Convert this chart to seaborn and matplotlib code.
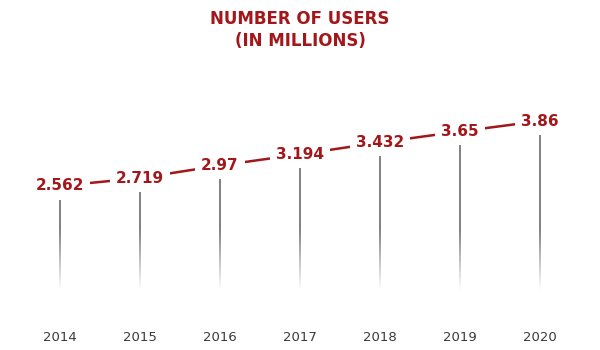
import numpy as np
import pandas as pd
import matplotlib
matplotlib.use("Agg")
import matplotlib.pyplot as plt
import seaborn as sns
from matplotlib.collections import LineCollection

# Chart data
years = [2014, 2015, 2016, 2017, 2018, 2019, 2020]
users = [2.562, 2.719, 2.97, 3.194, 3.432, 3.65, 3.86]
title_text = "NUMBER OF USERS\n(IN MILLIONS)"

df = pd.DataFrame({"year": years, "users": users})

sns.set_style("white")
plt.rcParams['font.family'] = ['DejaVu Sans']

red = "#a3161a"

fig = plt.figure(figsize=(6, 3.5), dpi=100)
ax = fig.add_axes([0, 36 / 350, 1, (314 - 89) / 350])

# fading drop lines from each point down to the baseline
for x, v in zip(df["year"], df["users"]):
    ys = np.linspace(0, v, 80)
    segs = [[(x, ys[i]), (x, ys[i + 1])] for i in range(len(ys) - 1)]
    mids = (ys[:-1] + ys[1:]) / 2
    alphas = np.clip((mids - 0.48) / 1.2, 0, 1) * 0.9
    cols = [(0.3, 0.3, 0.3, a) for a in alphas]
    ax.add_collection(LineCollection(segs, colors=cols, linewidths=1.1, zorder=1))

sns.lineplot(data=df, x="year", y="users", color=red, linewidth=1.8, ax=ax, zorder=2)

for x, v in zip(df["year"], df["users"]):
    ax.text(x, v, f"{v}", ha="center", va="center", fontsize=11, fontweight="bold",
            color=red, zorder=3,
            bbox=dict(boxstyle="square,pad=0.4", facecolor="white", edgecolor="none"))

ax.set_xlim(2013.25, 2020.75)
ax.set_ylim(0, 4.5)
ax.set_xticks(years)
ax.set_xticklabels([str(y) for y in years])
ax.tick_params(axis="x", length=0, pad=12, labelsize=9.5, labelcolor="#3a3a3a")
ax.set_yticks([])
ax.set_xlabel("")
ax.set_ylabel("")
for s in ax.spines.values():
    s.set_visible(False)

fig.text(0.5, 1 - 30 / 350, title_text, ha="center", va="center", fontsize=12,
         fontweight="bold", color=red, linespacing=1.3)

fig.savefig("out.png", dpi=100, facecolor="white")
